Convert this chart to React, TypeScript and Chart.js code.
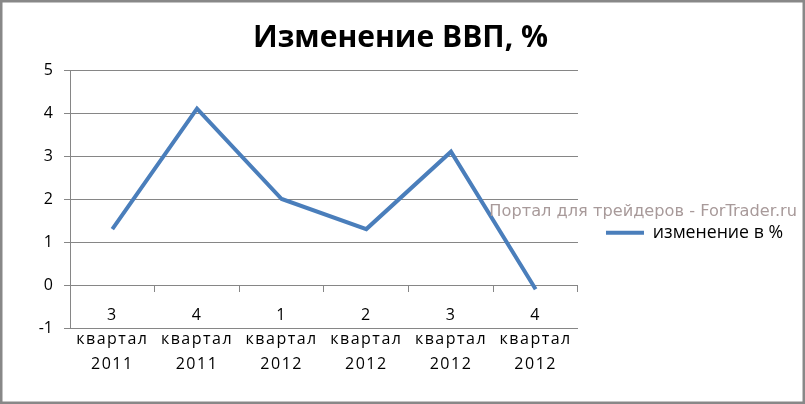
import React, { useEffect, useRef } from "react";
import { Chart, registerables } from "chart.js";

Chart.register(...registerables);

const categories: string[][] = [
  ["3", "квартал", "2011"],
  ["4", "квартал", "2011"],
  ["1", "квартал", "2012"],
  ["2", "квартал", "2012"],
  ["3", "квартал", "2012"],
  ["4", "квартал", "2012"],
];
const gdpChange: number[] = [1.3, 4.1, 2.0, 1.3, 3.1, -0.1];
const seriesName = "изменение в %";
const chartTitle = "Изменение ВВП, %";
const watermark = "Портал для трейдеров - ForTrader.ru";
const yMin = -1;
const yMax = 5;

const GRID = "#868686";
const LINE = "#4A7EBB";
const FONT = "'Open Sans'";

// Category labels (drawn after datasets, z: 1) get slightly wider letter spacing.
const spacingPlugin = {
  id: "textSpacing",
  beforeDraw(chart: any) {
    chart.ctx.letterSpacing = "0px";
  },
  afterDatasetsDraw(chart: any) {
    chart.ctx.letterSpacing = "1.5px";
  },
  afterDraw(chart: any) {
    chart.ctx.letterSpacing = "0px";
  },
};

const framePlugin = {
  id: "frameAndWatermark",
  afterDraw(chart: any) {
    const { ctx, width, height } = chart;
    ctx.save();
    ctx.letterSpacing = "0px";
    ctx.font = "16.2px 'DejaVu Sans'";
    ctx.fillStyle = "#a89a9a";
    ctx.textAlign = "right";
    ctx.textBaseline = "middle";
    ctx.fillText(watermark, width - 8, 212);
    ctx.strokeStyle = "#888888";
    ctx.lineWidth = 2.5;
    ctx.strokeRect(1.25, 1.25, width - 2.5, height - 2.5);
    ctx.restore();
  },
};

export default function App() {
  const ref = useRef<HTMLCanvasElement | null>(null);

  useEffect(() => {
    document.body.style.margin = "0";
    if (!ref.current) return;
    Chart.defaults.font.family = FONT;
    const chart = new Chart(ref.current, {
      type: "line",
      data: {
        labels: categories,
        datasets: [
          {
            label: seriesName,
            data: gdpChange,
            borderColor: LINE,
            backgroundColor: LINE,
            borderWidth: 4,
            pointRadius: 0,
            pointHoverRadius: 0,
            tension: 0,
          },
        ],
      },
      options: {
        animation: false,
        responsive: false,
        devicePixelRatio: 1,
        layout: { padding: { top: 0, left: 8, right: 12, bottom: 76 } },
        plugins: {
          tooltip: { enabled: false },
          title: {
            display: true,
            text: chartTitle,
            color: "#000",
            font: { family: FONT, size: 30, weight: "bold", lineHeight: 1.2 },
            padding: { top: 20, bottom: 14 },
          },
          legend: {
            display: true,
            position: "right",
            fullSize: false,
            align: "start",
            maxWidth: 300,
            labels: {
              color: "#000",
              font: { family: FONT, size: 17.7 },
              usePointStyle: true,
              pointStyle: "line",
              pointStyleWidth: 38,
              padding: 28,
            },
            title: {
              display: true,
              text: " ",
              font: { family: FONT, size: 10, lineHeight: 1 },
              padding: { top: 116, bottom: 0 },
            },
          },
        },
        scales: {
          x: {
            type: "category",
            position: { y: 0 } as any,
            offset: true,
            grid: {
              offset: true,
              drawOnChartArea: false,
              drawTicks: true,
              tickLength: 6,
              color: GRID,
            },
            border: { display: true, color: GRID, width: 1 },
            ticks: {
              z: 1,
              color: "#000",
              font: { family: FONT, size: 16, lineHeight: 1.53 },
              padding: 12,
              autoSkip: false,
              maxRotation: 0,
              minRotation: 0,
            },
          },
          y: {
            min: yMin,
            max: yMax,
            grid: { color: GRID, tickLength: 6, drawTicks: true },
            border: { display: true, color: GRID, width: 1 },
            ticks: {
              stepSize: 1,
              color: "#000",
              font: { family: FONT, size: 16 },
              padding: 11,
            },
            afterFit(scale: any) {
              scale.width = 62;
            },
          },
        },
      },
      plugins: [spacingPlugin, framePlugin],
    } as any);
    return () => chart.destroy();
  }, []);

  return (
    <div style={{ width: 805, height: 404, background: "#fff" }}>
      <canvas ref={ref} width={805} height={404} style={{ display: "block" }} />
    </div>
  );
}
